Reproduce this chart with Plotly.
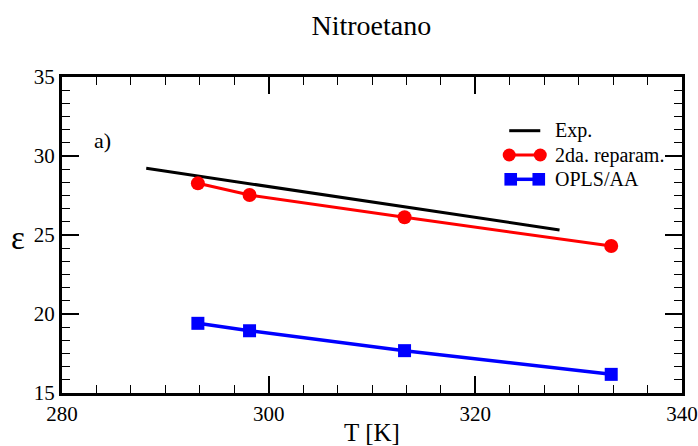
import plotly.graph_objects as go

# Dielectric constant of nitroethane vs temperature
t_exp = [288.15, 328.15]
eps_exp = [29.22, 25.32]

t_sim = [293.15, 298.15, 313.15, 333.15]
eps_reparam = [28.27, 27.53, 26.12, 24.30]
eps_opls = [19.41, 18.94, 17.68, 16.18]

legend_labels = ["Exp.", "2da. reparam.", "OPLS/AA"]
x_ticks = [280, 300, 320, 340]
y_ticks = [15, 20, 25, 30, 35]

FONT = "Liberation Serif, Times New Roman, serif"
RED = "#ff0000"
BLUE = "#0000ff"

fig = go.Figure()
fig.add_trace(go.Scatter(x=t_exp, y=eps_exp, mode="lines",
                         line=dict(color="black", width=3), showlegend=False))
fig.add_trace(go.Scatter(x=t_sim, y=eps_reparam, mode="lines+markers",
                         line=dict(color=RED, width=3),
                         marker=dict(symbol="circle", size=14, color=RED),
                         showlegend=False))
fig.add_trace(go.Scatter(x=t_sim, y=eps_opls, mode="lines+markers",
                         line=dict(color=BLUE, width=3.5),
                         marker=dict(symbol="square", size=13, color=BLUE),
                         showlegend=False))

# Legend drawn in paper coordinates (plot area 619 x 316 px)
W, H = 619.0, 316.0
X0, Y0 = 62.5, 393.0


def px(xp):
    return (xp - X0) / W


def py(yp):
    return (Y0 - yp) / H


rows = [130.7, 155.0, 179.3]
lx0, lx1 = 509.0, 540.0
fig.add_shape(type="line", xref="paper", yref="paper",
              x0=px(lx0), x1=px(lx1), y0=py(rows[0]), y1=py(rows[0]),
              line=dict(color="black", width=3))
fig.add_shape(type="line", xref="paper", yref="paper",
              x0=px(lx0), x1=px(lx1), y0=py(rows[1]), y1=py(rows[1]),
              line=dict(color=RED, width=3))
fig.add_shape(type="line", xref="paper", yref="paper",
              x0=px(lx0 + 2), x1=px(lx1 - 2), y0=py(rows[2]), y1=py(rows[2]),
              line=dict(color=BLUE, width=3.5))
r = 6.5
for cx in (lx0, lx1):
    fig.add_shape(type="circle", xref="paper", yref="paper",
                  x0=px(cx - r), x1=px(cx + r),
                  y0=py(rows[1] + r), y1=py(rows[1] - r),
                  fillcolor=RED, line=dict(color=RED, width=0))
s = 6.3
for cx in (lx0 + 1.5, lx1 - 1.5):
    fig.add_shape(type="rect", xref="paper", yref="paper",
                  x0=px(cx - s), x1=px(cx + s),
                  y0=py(rows[2] + s), y1=py(rows[2] - s),
                  fillcolor=BLUE, line=dict(color=BLUE, width=0))
for label, yy in zip(legend_labels, rows):
    fig.add_annotation(text=label, xref="paper", yref="paper",
                       x=px(552.5), y=py(yy), xanchor="left", yanchor="middle",
                       showarrow=False, font=dict(family=FONT, size=20, color="black"))

# Panel tag and y-axis symbol
fig.add_annotation(text="a)", xref="paper", yref="paper", x=px(92), y=py(140),
                   xanchor="left", yanchor="middle", showarrow=False,
                   font=dict(family=FONT, size=22, color="black"))
fig.add_annotation(text="ε", xref="paper", yref="paper", x=px(19), y=py(238),
                   xanchor="center", yanchor="middle", showarrow=False,
                   font=dict(family=FONT, size=33, color="black"))

axis_common = dict(
    showline=True, linecolor="black", linewidth=3, mirror="ticks",
    ticks="inside", ticklen=17, tickwidth=1.5, tickcolor="black",
    showgrid=False, zeroline=False, automargin=False,
    tickfont=dict(family=FONT, size=21, color="black"),
)

fig.update_xaxes(range=[280, 340], tickvals=x_ticks,
                 minor=dict(dtick=20 / 6, ticks="inside", ticklen=8,
                            tickwidth=1.2, tickcolor="black", showgrid=False),
                 title=dict(text="T [K]", standoff=4,
                            font=dict(family=FONT, size=25, color="black")),
                 **axis_common)
fig.update_yaxes(range=[15, 35], tickvals=y_ticks,
                 minor=dict(dtick=5 / 6, ticks="inside", ticklen=8,
                            tickwidth=1.2, tickcolor="black", showgrid=False),
                 **axis_common)

fig.update_layout(
    width=698, height=446,
    margin=dict(l=62, r=16, t=77, b=53),
    paper_bgcolor="white", plot_bgcolor="white",
    title=dict(text="Nitroetano", x=0.532, xanchor="center",
               yref="container", y=1 - 25 / 446, yanchor="middle",
               font=dict(family=FONT, size=28, color="black")),
    font=dict(family=FONT, color="black"),
)

fig.write_html("out.html")
